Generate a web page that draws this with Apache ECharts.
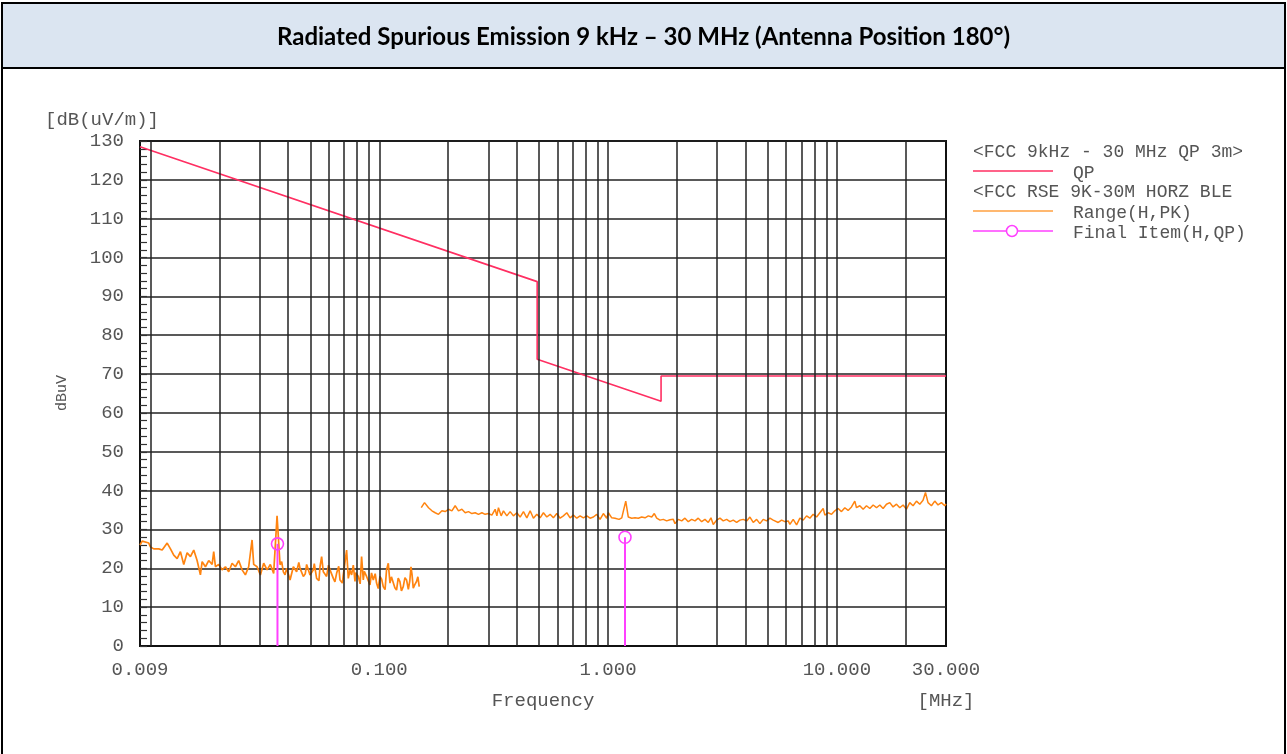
<!DOCTYPE html>
<html>
<head>
<meta charset="utf-8">
<script src="https://cdn.jsdelivr.net/npm/echarts@6/dist/echarts.min.js"></script>
<style>
html,body{margin:0;padding:0;background:#fff;}
#chart{width:1287px;height:754px;}
</style>
</head>
<body>
<div id="chart"></div>
<script>
// ---------- DATA ----------
const titleText = 'Radiated Spurious Emission 9 kHz \u2013 30 MHz (Antenna Position 180\u00b0)';
const xLabelValues = [0.009, 0.1, 1, 10, 30];
const xGridValues = [0.01,0.02,0.03,0.04,0.05,0.06,0.07,0.08,0.09,0.1,0.2,0.3,0.4,0.5,0.6,0.7,0.8,0.9,1,2,3,4,5,6,7,8,9,10,20];
const yMin = 0, yMax = 130, yStep = 10;

// QP limit line (FCC 9 kHz - 30 MHz QP 3 m)
const limitFreq  = [0.009, 0.49, 0.49, 1.705, 1.705, 30];
const limitLevel = [128.5, 93.8, 73.8, 63.0, 69.5, 69.5];

// Range (H,PK) 9 kHz - 150 kHz
const lowFreq = [0.0090,0.0092,0.00983,0.0100,0.01034,0.01087,0.01125,0.01183,0.01223,0.01264,0.01308,0.01352,0.01398,0.01446,0.01495,0.01546,0.01599,0.01653,0.01682,0.01739,0.01797,0.01860,0.01890,0.01923,0.01987,0.02057,0.02126,0.02198,0.02274,0.02351,0.02430,0.02515,0.02599,0.02687,0.02780,0.02826,0.02924,0.03023,0.03125,0.03233,0.03342,0.03455,0.03575,0.03685,0.03745,0.03809,0.03875,0.03938,0.04075,0.04212,0.04354,0.0445,0.04506,0.04658,0.0475,0.04815,0.04982,0.05150,0.0520,0.05324,0.0545,0.05509,0.05599,0.05695,0.05887,0.0600,0.06092,0.06298,0.0640,0.06510,0.0665,0.06736,0.0690,0.06964,0.07199,0.07323,0.0745,0.07570,0.0770,0.07833,0.0790,0.08098,0.0825,0.08371,0.08515,0.0860,0.08803,0.0895,0.09109,0.0925,0.09416,0.0960,0.09732,0.0990,0.1007,0.1024,0.1041,0.1060,0.1076,0.1095,0.1114,0.1130,0.1151,0.1170,0.1190,0.1210,0.1231,0.1250,0.1273,0.1295,0.1316,0.1340,0.1360,0.1376,0.1390,0.1408,0.1430,0.1455,0.1475,0.1495];
const lowLevel = [26.0,27.0,26.5,25.5,25.0,25.0,24.7,26.5,25.0,23.4,22.5,24.3,21.0,24.0,23.0,24.7,22.0,18.3,21.7,20.4,22.0,21.0,24.3,20.4,21.0,19.6,20.4,19.1,21.3,20.4,22.0,19.6,18.3,20.4,27.3,21.0,20.4,18.3,21.3,19.6,21.0,18.7,33.5,20.9,21.7,19.1,18.3,20.0,17.0,20.4,19.1,21.5,20.0,17.9,18.6,21.0,18.3,19.6,21.2,17.4,16.8,20.4,23.0,19.1,17.9,20.8,19.6,17.4,16.5,18.7,20.5,17.0,16.2,18.3,24.7,17.4,19.5,18.3,20.8,16.6,18.9,17.9,16.0,23.0,17.0,19.2,17.9,17.6,15.7,18.8,17.0,18.6,16.2,14.8,17.9,17.2,15.3,14.5,19.6,21.3,16.2,17.8,17.4,15.0,14.4,17.5,16.6,14.2,15.3,17.6,17.0,14.6,16.8,20.4,18.5,14.9,15.8,16.6,17.8,15.3];

// Range (H,PK) 150 kHz - 30 MHz
const highFreq = [0.1526,0.1577,0.1642,0.1699,0.1756,0.1815,0.1879,0.1942,0.2007,0.2077,0.2147,0.2220,0.2297,0.2375,0.2455,0.2540,0.2626,0.2714,0.2809,0.2903,0.3001,0.3106,0.3210,0.3266,0.3319,0.3410,0.3490,0.3611,0.3733,0.3859,0.3993,0.4128,0.4268,0.4416,0.4565,0.4719,0.4883,0.5048,0.5218,0.5399,0.5582,0.5770,0.5971,0.6172,0.6381,0.6602,0.6825,0.7055,0.7301,0.7547,0.7802,0.8073,0.8346,0.8627,0.8926,0.9227,0.9539,0.9870,1.003,1.038,1.073,1.117,1.148,1.195,1.226,1.269,1.312,1.356,1.403,1.451,1.500,1.552,1.593,1.632,1.687,1.744,1.804,1.865,1.928,1.962,2.028,2.098,2.169,2.242,2.320,2.399,2.479,2.566,2.652,2.742,2.817,2.883,2.983,3.084,3.188,3.299,3.410,3.525,3.648,3.771,3.898,4.034,4.170,4.311,4.460,4.611,4.767,4.932,5.099,5.271,5.362,5.543,5.735,5.929,6.129,6.235,6.445,6.669,6.894,7.127,7.375,7.624,7.881,8.155,8.430,8.714,8.865,9.164,9.483,9.801,10.13,10.48,10.84,11.20,11.59,11.98,12.19,12.60,13.03,13.48,13.94,14.41,14.91,15.41,15.93,16.48,17.04,17.61,18.23,18.84,19.48,20.15,20.83,21.54,22.29,23.04,23.81,24.40,25.04,25.91,26.79,27.69,28.65,29.62,30.0];
const highLevel = [35.6,36.9,35.6,34.8,34.3,33.9,34.8,34.6,35.2,34.8,36.1,34.8,35.2,34.3,34.6,34.1,34.3,33.9,34.3,33.9,34.1,33.7,35.2,33.5,35.6,33.5,34.8,33.5,34.6,33.5,34.3,33.2,34.6,33.0,34.8,32.9,33.9,33.0,34.3,33.2,33.9,33.0,34.1,32.9,33.5,34.3,33.0,33.7,32.9,33.5,33.0,33.5,32.9,33.2,33.9,32.6,34.1,32.9,34.3,33.0,32.9,32.6,33.0,37.3,33.2,32.9,33.0,32.9,33.2,33.0,33.5,33.2,34.1,32.9,32.4,32.6,32.2,32.5,32.6,31.5,32.6,32.2,32.9,32.0,32.6,32.2,32.9,32.0,32.6,31.8,33.0,31.3,32.4,32.9,32.2,32.6,32.0,32.4,31.8,32.4,32.6,32.2,33.2,31.8,32.6,31.5,32.6,32.2,32.9,32.4,32.2,31.8,32.4,32.0,32.2,31.3,32.6,31.2,32.9,32.4,33.5,32.9,33.9,33.2,34.3,35.4,33.7,34.3,33.9,34.8,35.4,34.6,35.6,34.9,35.8,37.3,35.6,36.1,35.2,36.1,35.4,36.3,35.6,36.3,35.4,36.5,36.9,35.8,36.5,35.6,36.3,35.2,36.9,36.1,37.3,36.5,37.5,39.5,36.9,36.1,37.3,36.3,36.9,36.1,36.6];

// Final Item (H,QP)
const finalFreq  = [0.0359, 1.186];
const finalLevel = [26.3, 28.0];

// ---------- CHART ----------
const pairs = (xs, ys) => xs.map((x, i) => [x, ys[i]]);
const MONO = '"Liberation Mono", "DejaVu Sans Mono", monospace';
const TXT = '#555';
const RED = '#ff2f62', ORANGE = '#ff8410', MAGENTA = '#ff40ff';

const finalSeries = finalFreq.map((f, i) => ({
  type: 'line', name: 'Final Item(H,QP)', silent: true, z: 5,
  data: [{value: [f, 0], symbol: 'none'}, {value: [f, finalLevel[i]], symbol: 'circle', symbolSize: 12}],
  lineStyle: {color: MAGENTA, width: 2},
  itemStyle: {color: 'rgba(255,255,255,0)', borderColor: MAGENTA, borderWidth: 1.6},
  showAllSymbol: true, animation: false
}));

const chart = echarts.init(document.getElementById('chart'), null, {renderer: 'canvas'});
chart.setOption({
  backgroundColor: '#fff',
  animation: false,
  grid: {left: 140, top: 141, width: 806, height: 505, show: true, borderColor: '#111', borderWidth: 2, backgroundColor: 'transparent'},
  xAxis: {
    type: 'log', logBase: 10, min: 0.009, max: 30,
    axisLine: {show: true, lineStyle: {color: '#111', width: 2}},
    axisTick: {show: false},
    splitLine: {show: false},
    axisLabel: {
      customValues: xLabelValues, interval: 0, margin: 14,
      color: TXT, fontFamily: MONO, fontSize: 19,
      formatter: v => Number(v).toFixed(3)
    }
  },
  yAxis: {
    type: 'value', min: yMin, max: yMax, interval: yStep,
    axisLine: {show: true, lineStyle: {color: '#111', width: 2}},
    axisTick: {show: true, inside: true, length: 7, lineStyle: {color: '#333', width: 1.2}},
    minorTick: {show: true, splitNumber: 5, length: 7, lineStyle: {color: '#333', width: 1.2}},
    splitLine: {show: true, lineStyle: {color: '#222', width: 1.5}},
    axisLabel: {color: TXT, fontFamily: MONO, fontSize: 19, margin: 16}
  },
  series: [
    {
      type: 'line', name: 'grid', data: [], silent: true, z: 1,
      markLine: {
        silent: true, symbol: 'none', animation: false,
        label: {show: false},
        lineStyle: {type: 'solid', color: '#222', width: 1.5},
        data: xGridValues.map(v => ({xAxis: v}))
      }
    },
    {type: 'line', name: 'Range(H,PK)', data: pairs(lowFreq, lowLevel), showSymbol: false, symbol: 'none', silent: true, z: 3,
     lineStyle: {color: ORANGE, width: 1.7}},
    {type: 'line', name: 'Range(H,PK)', data: pairs(highFreq, highLevel), showSymbol: false, symbol: 'none', silent: true, z: 3,
     lineStyle: {color: ORANGE, width: 1.5}},
    {type: 'line', name: 'QP', data: pairs(limitFreq, limitLevel), showSymbol: false, symbol: 'none', silent: true, z: 4,
     lineStyle: {color: RED, width: 1.6}},
    ...finalSeries
  ],
  graphic: [
    {type: 'rect', z: 0, shape: {x: 2, y: 3, width: 1283, height: 820}, style: {fill: 'none', stroke: '#000', lineWidth: 2}},
    {type: 'rect', z: 0, shape: {x: 2, y: 3, width: 1283, height: 65}, style: {fill: '#dbe5f1', stroke: '#000', lineWidth: 2}},
    {type: 'text', x: 643.5, y: 37, style: {text: titleText, font: 'bold 24px Lato, "Open Sans", sans-serif', fill: '#000', textAlign: 'center', textVerticalAlign: 'middle'}},
    {type: 'text', x: 45, y: 120, style: {text: '[dB(uV/m)]', font: '19px ' + MONO, fill: TXT, textAlign: 'left', textVerticalAlign: 'middle'}},
    {type: 'text', x: 62, y: 393, rotation: Math.PI / 2, style: {text: 'dBuV', font: '15px ' + MONO, fill: TXT, textAlign: 'center', textVerticalAlign: 'middle'}},
    {type: 'text', x: 543, y: 701, style: {text: 'Frequency', font: '19px ' + MONO, fill: TXT, textAlign: 'center', textVerticalAlign: 'middle'}},
    {type: 'text', x: 946, y: 701, style: {text: '[MHz]', font: '19px ' + MONO, fill: TXT, textAlign: 'center', textVerticalAlign: 'middle'}},
    // legend
    {type: 'text', x: 973, y: 152, style: {text: '<FCC 9kHz - 30 MHz QP 3m>', font: '18px ' + MONO, fill: TXT, textAlign: 'left', textVerticalAlign: 'middle'}},
    {type: 'line', shape: {x1: 973, y1: 171, x2: 1053, y2: 171}, style: {stroke: RED, lineWidth: 1.5}},
    {type: 'text', x: 1073, y: 173, style: {text: 'QP', font: '18px ' + MONO, fill: TXT, textAlign: 'left', textVerticalAlign: 'middle'}},
    {type: 'text', x: 973, y: 192, style: {text: '<FCC RSE 9K-30M HORZ BLE', font: '18px ' + MONO, fill: TXT, textAlign: 'left', textVerticalAlign: 'middle'}},
    {type: 'line', shape: {x1: 973, y1: 211, x2: 1053, y2: 211}, style: {stroke: '#ffa040', lineWidth: 1.5}},
    {type: 'text', x: 1073, y: 213, style: {text: 'Range(H,PK)', font: '18px ' + MONO, fill: TXT, textAlign: 'left', textVerticalAlign: 'middle'}},
    {type: 'line', shape: {x1: 973, y1: 231, x2: 1053, y2: 231}, style: {stroke: MAGENTA, lineWidth: 1.5}},
    {type: 'circle', shape: {cx: 1012, cy: 231, r: 5.5}, style: {fill: '#fff', stroke: MAGENTA, lineWidth: 1.5}},
    {type: 'text', x: 1073, y: 233, style: {text: 'Final Item(H,QP)', font: '18px ' + MONO, fill: TXT, textAlign: 'left', textVerticalAlign: 'middle'}}
  ]
});
</script>
</body>
</html>
